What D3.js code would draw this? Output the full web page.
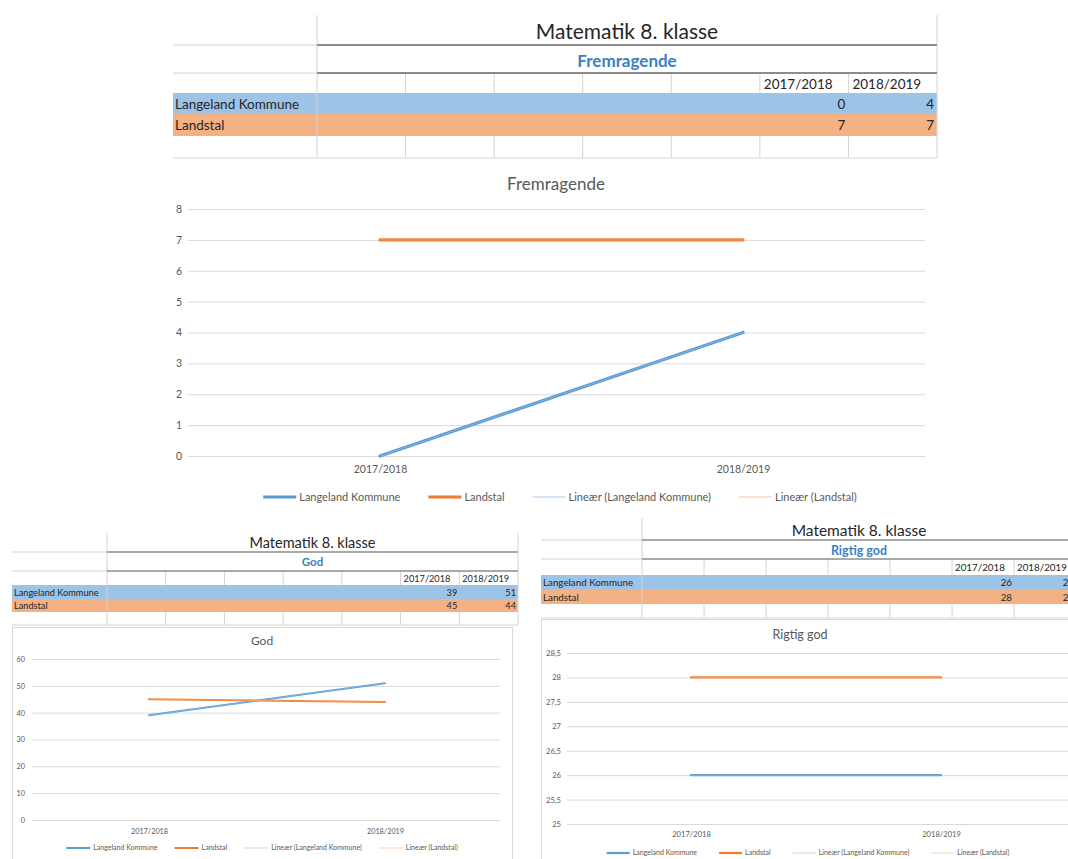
<!DOCTYPE html>
<html><head><meta charset="utf-8">
<script src="https://cdn.jsdelivr.net/npm/d3@7"></script>
<style>body{margin:0;background:#fff}svg{display:block;font-family:Lato,"Open Sans",sans-serif}</style>
</head><body><svg id="c" width="1068" height="859"></svg>
<script>
// ---------- data ----------
const categories = ["2017/2018", "2018/2019"];
const seriesNames = ["Langeland Kommune", "Landstal"];
const trendNames = ["Lineær (Langeland Kommune)", "Lineær (Landstal)"];
const heading = "Matematik 8. klasse";
const panelTitles = ["Fremragende", "God", "Rigtig god"];
const fremragendeLangeland = [0, 4];
const fremragendeLandstal = [7, 7];
const godLangeland = [39, 51];
const godLandstal = [45, 44];
const rigtigGodLangeland = [26, 26];
const rigtigGodLandstal = [28, 28];
const fremragendeTicks = [0, 1, 2, 3, 4, 5, 6, 7, 8];
const godTicks = [0, 10, 20, 30, 40, 50, 60];
const rigtigGodTicks = [25, 25.5, 26, 26.5, 27, 27.5, 28, 28.5];

// ---------- styles ----------
const C = {
  blueFill: "#9dc3e6", orangeFill: "#f4b183",
  blue: "#5b9bd5", orange: "#ed7d31",
  blueTrend: "#d6e6f5", orangeTrend: "#fbe1d0",
  grid: "#d9d9d9", cellLine: "#d4d4d4", dark: "#8c8c8c",
  sub: "#3b7fc4", text: "#262626", axis: "#595959"
};
const da = d3.formatLocale({decimal: ",", thousands: ".", grouping: [3], currency: ["", " kr"]});
const fmt = da.format("~g");

const svg = d3.select("#c");

function drawTable(o) {
  const g = svg.append("g");
  const right = o.hdrRight + o.nCols * o.colW;
  const r = o.rows;
  const colX = d3.range(o.nCols + 1).map(i => o.hdrRight + i * o.colW);
  // fills
  g.append("rect").attr("x", o.left).attr("y", r[3]).attr("width", right - o.left).attr("height", r[4] - r[3]).attr("fill", C.blueFill);
  g.append("rect").attr("x", o.left).attr("y", r[4]).attr("width", right - o.left).attr("height", r[5] - r[4]).attr("fill", C.orangeFill);
  const ln = (x1, y1, x2, y2, c, w) => g.append("line").attr("x1", x1).attr("y1", y1).attr("x2", x2).attr("y2", y2).attr("stroke", c).attr("stroke-width", w);
  // light grid
  ln(o.left, r[1], o.hdrRight, r[1], C.cellLine, 1);
  ln(o.left, r[2], o.hdrRight, r[2], C.cellLine, 1);
  ln(o.left, r[6], right, r[6], C.cellLine, 1);
  ln(o.hdrRight, r[0], o.hdrRight, r[6], C.cellLine, 1);
  ln(right, r[0], right, r[6], C.cellLine, 1);
  colX.slice(1, -1).forEach(x => { ln(x, r[2], x, r[3], C.cellLine, 1); ln(x, r[5], x, r[6], C.cellLine, 1); });
  // dark lines
  ln(o.hdrRight, r[1], right, r[1], C.dark, o.darkW);
  ln(o.hdrRight, r[2], right, r[2], C.dark, o.darkW);
  const cx = (o.hdrRight + right) / 2;
  g.append("text").attr("x", cx).attr("y", o.titleY).attr("text-anchor", "middle").attr("font-size", o.titleFs).attr("fill", C.text).text(heading);
  g.append("text").attr("x", cx).attr("y", o.subY).attr("text-anchor", "middle").attr("font-size", o.subFs).attr("font-weight", "bold").attr("fill", C.sub).text(o.sub);
  // header row (left aligned like Excel text cells)
  categories.forEach((c, i) => {
    g.append("text").attr("x", colX[o.nCols - 2 + i] + o.pad + 1).attr("y", o.hdrY).attr("font-size", o.cellFs).attr("fill", C.text).text(c);
  });
  [o.values[0], o.values[1]].forEach((vals, si) => {
    const y = si === 0 ? o.row1Y : o.row2Y;
    g.append("text").attr("x", o.left + 2).attr("y", y).attr("font-size", o.cellFs).attr("fill", C.text).text(seriesNames[si]);
    vals.forEach((v, i) => {
      g.append("text").attr("x", colX[o.nCols - 1 + i] - o.pad).attr("y", y).attr("text-anchor", "end").attr("font-size", o.cellFs).attr("fill", C.text).text(fmt(v));
    });
  });
}

function linFit(vals) {
  const xs = vals.map((_, i) => i + 1);
  const mx = d3.mean(xs), my = d3.mean(vals);
  const sxx = d3.sum(xs, x => (x - mx) * (x - mx));
  const sxy = d3.sum(xs, (x, i) => (x - mx) * (vals[i] - my));
  const b = sxx ? sxy / sxx : 0, a = my - b * mx;
  return xs.map(x => a + b * x);
}

function drawChart(o) {
  const g = svg.append("g");
  if (o.box) g.append("rect").attr("x", o.box[0] + 0.5).attr("y", o.box[1] + 0.5).attr("width", o.box[2]).attr("height", o.box[3]).attr("fill", "#fff").attr("stroke", C.grid).attr("stroke-width", 1);
  const y = d3.scaleLinear().domain(d3.extent(o.ticks)).range(o.yRange);
  const x = d3.scalePoint().domain(categories).range(o.xRange);
  // y axis with gridlines
  const ya = g.append("g").attr("transform", `translate(${o.gridX[0]},0)`)
    .call(d3.axisLeft(y).tickValues(o.ticks).tickFormat(fmt).tickSize(-(o.gridX[1] - o.gridX[0])).tickPadding(o.tickPad));
  ya.select(".domain").remove();
  ya.selectAll(".tick line").attr("stroke", C.grid).attr("stroke-width", 1);
  ya.selectAll(".tick text").attr("fill", C.axis).attr("font-size", o.axisFs).attr("font-family", "Lato, 'Open Sans', sans-serif");
  // x axis labels
  const xa = g.append("g").attr("transform", `translate(0,${o.catY})`)
    .call(d3.axisBottom(x).tickSize(0).tickPadding(0));
  xa.select(".domain").remove();
  xa.selectAll(".tick text").attr("fill", C.axis).attr("font-size", o.axisFs).attr("font-family", "Lato, 'Open Sans', sans-serif").attr("dy", "0.35em");
  // title
  g.append("text").attr("x", o.titleX).attr("y", o.titleY).attr("text-anchor", "middle").attr("font-size", o.titleFs).attr("fill", C.axis).text(o.title);
  // lines
  const line = d3.line().x((d, i) => x(categories[i])).y(d => y(d));
  const trends = [[linFit(o.series[0]), C.blueTrend], [linFit(o.series[1]), C.orangeTrend]];
  const mains = [[o.series[0], C.blue], [o.series[1], C.orange]];
  mains.forEach(([v, c]) => g.append("path").attr("d", line(v)).attr("fill", "none").attr("stroke", c).attr("stroke-width", o.lineW).attr("stroke-linecap", "round"));
  trends.forEach(([v, c]) => g.append("path").attr("d", line(v)).attr("fill", "none").attr("stroke", c).attr("stroke-width", 0.6).attr("stroke-opacity", 0.5));
  // legend
  const items = [
    [seriesNames[0], C.blue, o.lineW], [seriesNames[1], C.orange, o.lineW],
    [trendNames[0], C.blueTrend, o.lineW * 0.7], [trendNames[1], C.orangeTrend, o.lineW * 0.7]
  ];
  const lg = g.append("g");
  let cur = 0;
  items.forEach(([name, c, w], i) => {
    const it = lg.append("g").attr("transform", `translate(${cur},0)`);
    it.append("line").attr("x1", 0).attr("x2", o.swatch).attr("y1", 0).attr("y2", 0).attr("stroke", c).attr("stroke-width", w);
    const t = it.append("text").attr("x", o.swatch + 3).attr("y", 0).attr("dy", "0.35em").attr("font-size", o.legendFs).attr("fill", C.axis).text(name);
    cur += o.swatch + 3 + t.node().getComputedTextLength() + (i < items.length - 1 ? o.gap : 0);
  });
  lg.attr("transform", `translate(${o.legendCx - cur / 2},${o.legendY})`);
}

// ---------- panel 1 ----------
drawTable({left: 173, hdrRight: 317, colW: 620 / 7, nCols: 7, rows: [15, 45, 73, 93, 114, 136, 158],
  titleY: 39, titleFs: 21, sub: panelTitles[0], subY: 67, subFs: 17, cellFs: 13.5, hdrY: 89, row1Y: 109, row2Y: 130,
  pad: 3, darkW: 2, values: [fremragendeLangeland, fremragendeLandstal]});
drawChart({title: panelTitles[0], titleX: 556, titleY: 190, titleFs: 17, ticks: fremragendeTicks, yRange: [456, 209],
  gridX: [188, 925], xRange: [380, 743], tickPad: 6, axisFs: 10.5, catY: 469, lineW: 3.2,
  series: [fremragendeLangeland, fremragendeLandstal], legendY: 497, legendCx: 560, legendFs: 11, swatch: 33, gap: 28});

// ---------- panel 2 ----------
drawChart({box: [12, 627, 500, 260], title: panelTitles[1], titleX: 262, titleY: 645, titleFs: 12, ticks: godTicks, yRange: [820, 659],
  gridX: [32, 500], xRange: [149, 385], tickPad: 7, axisFs: 7.3, catY: 831, lineW: 2,
  series: [godLangeland, godLandstal], legendY: 848, legendCx: 262, legendFs: 7, swatch: 24, gap: 17});
drawTable({left: 12, hdrRight: 107, colW: 411 / 7, nCols: 7, rows: [533, 552, 571, 585, 599, 612, 625],
  titleY: 548, titleFs: 14.5, sub: panelTitles[1], subY: 566, subFs: 11.5, cellFs: 9.2, hdrY: 582, row1Y: 595.5, row2Y: 609,
  pad: 2, darkW: 1.6, values: [godLangeland, godLandstal]});

// ---------- panel 3 ----------
drawChart({box: [541, 619, 560, 260], title: panelTitles[2], titleX: 800, titleY: 639, titleFs: 12.5, ticks: rigtigGodTicks, yRange: [824, 653],
  gridX: [567, 1075], xRange: [691, 941], tickPad: 6, axisFs: 7.6, catY: 834, lineW: 2.2,
  series: [rigtigGodLangeland, rigtigGodLandstal], legendY: 853, legendCx: 808, legendFs: 7, swatch: 23, gap: 22});
drawTable({left: 541, hdrRight: 642, colW: 62, nCols: 7, rows: [518, 540, 559, 575, 590, 604, 618],
  titleY: 536, titleFs: 15.5, sub: panelTitles[2], subY: 555, subFs: 12.5, cellFs: 9.8, hdrY: 571, row1Y: 586, row2Y: 601,
  pad: 2, darkW: 1.6, values: [rigtigGodLangeland, rigtigGodLandstal]});
</script></body></html>
